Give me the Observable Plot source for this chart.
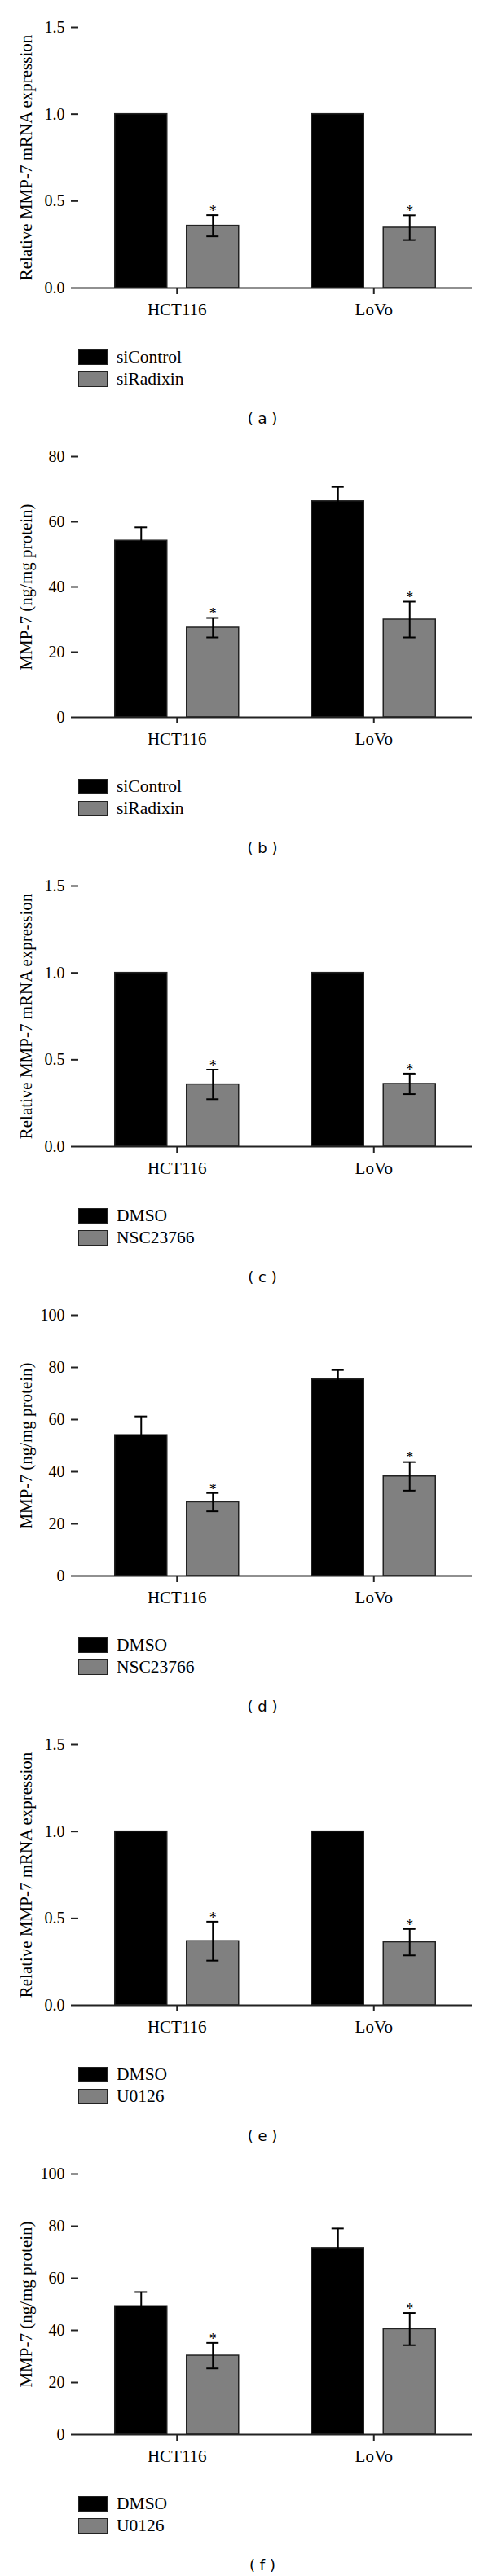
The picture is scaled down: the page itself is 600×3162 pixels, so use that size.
<!DOCTYPE html>
<html><head><meta charset="utf-8">
<script src="https://cdn.jsdelivr.net/npm/d3@7"></script>
<script src="https://cdn.jsdelivr.net/npm/@observablehq/plot@0.6"></script>
<style>
html,body{margin:0;padding:0;background:#fff;}
body{width:600px;}
.panel{position:relative;width:600px;height:527px;overflow:hidden;}
.panel > svg{position:absolute;left:0;top:0;}
.legend{position:absolute;left:96px;font-family:"Liberation Serif",serif;font-size:21.5px;color:#000;}
.item{display:flex;align-items:center;height:27.3px;white-space:nowrap;}
.sw{width:36px;height:19px;box-sizing:border-box;border:1.5px solid #222;margin-right:11px;}
.caption{position:absolute;left:0;width:644px;text-align:center;font-family:"DejaVu Sans",sans-serif;font-size:18px;line-height:20px;color:#000;white-space:pre;}
</style></head><body><div id="root"></div>
<script>
// ---- data ----
const groups = ["HCT116", "LoVo"];
const panelLetters = ["a", "b", "c", "d", "e", "f"];
const controlNames = ["siControl", "siControl", "DMSO", "DMSO", "DMSO", "DMSO"];
const treatNames = ["siRadixin", "siRadixin", "NSC23766", "NSC23766", "U0126", "U0126"];
const yLabels = [
  "Relative MMP-7 mRNA expression",
  "MMP-7 (ng/mg protein)",
  "Relative MMP-7 mRNA expression",
  "MMP-7 (ng/mg protein)",
  "Relative MMP-7 mRNA expression",
  "MMP-7 (ng/mg protein)"
];
const yMax = [1.5, 80, 1.5, 100, 1.5, 100];
const yTicksRel = [0, 0.5, 1.0, 1.5];
const yTicks80 = [0, 20, 40, 60, 80];
const yTicks100 = [0, 20, 40, 60, 80, 100];
const yTicks = [yTicksRel, yTicks80, yTicksRel, yTicks100, yTicksRel, yTicks100];
const yFormats = [".1f", "d", ".1f", "d", ".1f", "d"];
// means and error per group [HCT116, LoVo]
const controlMeans = [[1, 1], [54.2, 66.3], [1, 1], [54.0, 75.4], [1, 1], [49.3, 71.6]];
const controlErr   = [[0, 0], [4.1, 4.4], [0, 0], [7.2, 3.6], [0, 0], [5.4, 7.5]];
const treatMeans   = [[0.358, 0.347], [27.5, 30.0], [0.358, 0.361], [28.3, 38.2], [0.369, 0.363], [30.3, 40.5]];
const treatErr     = [[0.061, 0.071], [3.0, 5.5], [0.085, 0.059], [3.5, 5.5], [0.112, 0.076], [4.9, 6.2]];
const treatSignificant = [[true, true], [true, true], [true, true], [true, true], [true, true], [true, true]];
const barColors = ["#000000", "#808080"];

// ---- drawing ----
const root = document.getElementById("root");

panelLetters.forEach((letter, i) => {
  const panel = document.createElement("div");
  panel.className = "panel";
  root.appendChild(panel);

  const data = [];
  groups.forEach((g, j) => {
    data.push({group: g, treatment: controlNames[i], mean: controlMeans[i][j], err: controlErr[i][j], sig: false});
    data.push({group: g, treatment: treatNames[i], mean: treatMeans[i][j], err: treatErr[i][j], sig: treatSignificant[i][j]});
  });
  const withErr = data.filter(d => d.err > 0);
  const fmt = d3.format(yFormats[i]);

  const chart = Plot.plot({
    width: 600,
    height: 400,
    marginTop: 33,
    marginBottom: 47,
    marginLeft: 96,
    marginRight: 21,
    style: {fontFamily: "'Liberation Serif', serif", fontSize: "20px", color: "#000", background: "transparent", overflow: "visible"},
    fx: {domain: groups, padding: 0, round: false},
    x: {domain: [controlNames[i], treatNames[i]], paddingInner: 0.2727, paddingOuter: 0.5085, round: false, axis: null},
    y: {domain: [0, yMax[i]], round: false},
    color: {domain: [controlNames[i], treatNames[i]], range: barColors},
    marks: [
      Plot.barY(data, {fx: "group", x: "treatment", y: "mean", fill: "treatment", stroke: "#222", strokeWidth: 1.5}),
      Plot.ruleX(withErr, {fx: "group", x: "treatment", y1: d => d.mean - d.err, y2: d => d.mean + d.err, stroke: "#000", strokeWidth: 2}),
      Plot.tickY(withErr, {fx: "group", x: "treatment", y: d => d.mean + d.err, insetLeft: 24.5, insetRight: 24.5, stroke: "#000", strokeWidth: 2}),
      Plot.tickY(withErr, {fx: "group", x: "treatment", y: d => d.mean - d.err, insetLeft: 24.5, insetRight: 24.5, stroke: "#000", strokeWidth: 2}),
      Plot.text(data.filter(d => d.sig), {fx: "group", x: "treatment", y: d => d.mean + d.err, text: () => "*", dy: -5, fontSize: 18, fill: "#000"}),
      Plot.ruleY([0], {stroke: "#222", strokeWidth: 2}),
      Plot.axisY({ticks: yTicks[i], tickFormat: fmt, tickSize: 9, tickPadding: 8, line: true, stroke: "#222", strokeWidth: 2,
                  label: null, fontSize: 20}),
      Plot.axisY({ticks: [], tickSize: 0, label: yLabels[i], labelAnchor: "center", labelOffset: 72, labelArrow: "none", fontSize: 21}),
      Plot.axisFx({anchor: "bottom", tickSize: 8, tickPadding: 11, fontSize: 21, label: null, stroke: "#222", strokeWidth: 2})
    ]
  });
  panel.appendChild(chart);

  // legend
  const legend = document.createElement("div");
  legend.className = "legend";
  legend.style.top = "424.5px";
  [controlNames[i], treatNames[i]].forEach((name, k) => {
    const item = document.createElement("div");
    item.className = "item";
    const sw = document.createElement("div");
    sw.className = "sw";
    sw.style.background = barColors[k];
    const label = document.createElement("span");
    label.textContent = name;
    item.appendChild(sw);
    item.appendChild(label);
    legend.appendChild(item);
  });
  panel.appendChild(legend);

  // caption
  const cap = document.createElement("div");
  cap.className = "caption";
  cap.style.top = "504px";
  cap.textContent = "( " + letter + " )";
  panel.appendChild(cap);
});
</script></body></html>
